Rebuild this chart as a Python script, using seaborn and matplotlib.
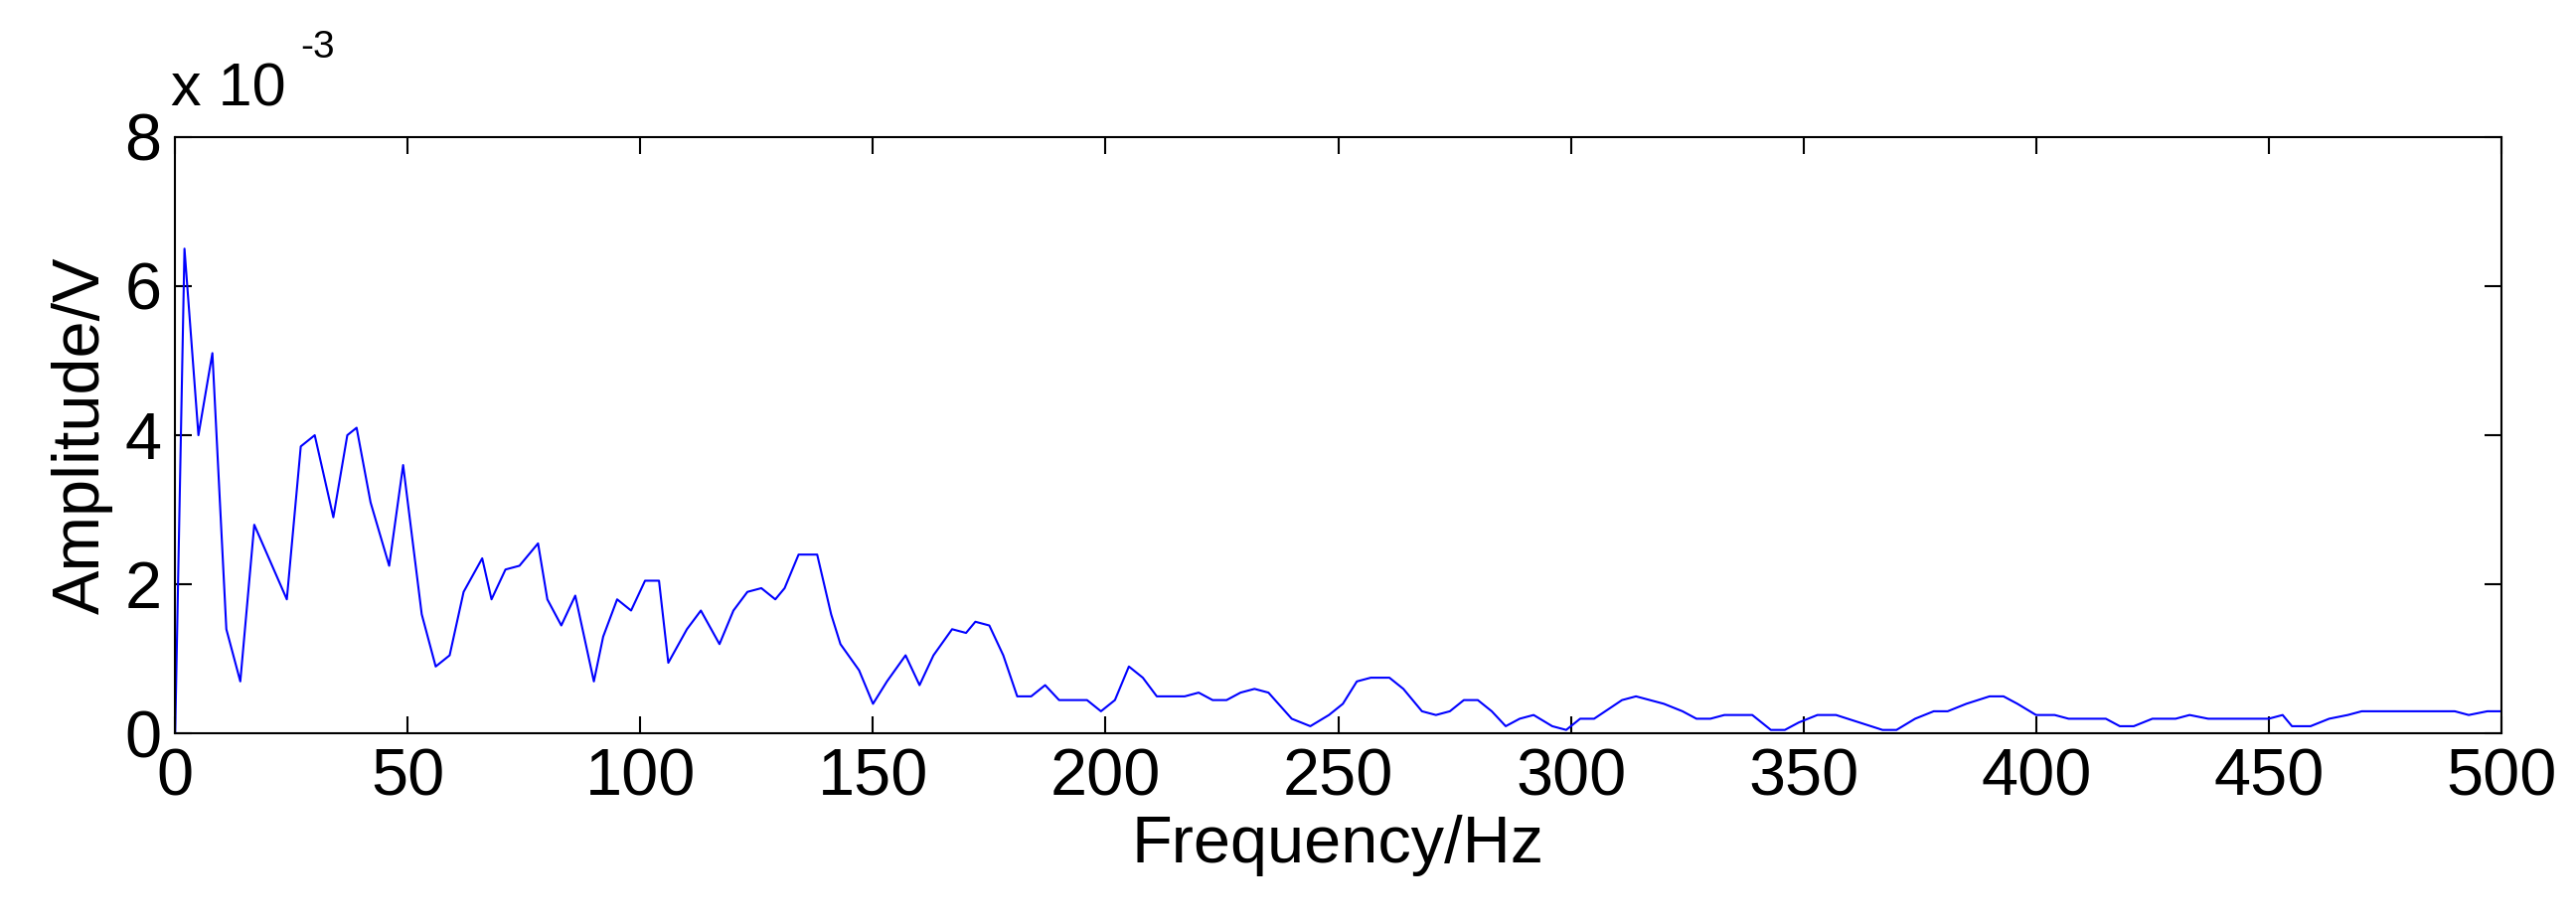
import numpy as np
import pandas as pd
import matplotlib
matplotlib.use("Agg")
import matplotlib.pyplot as plt
import seaborn as sns

# spectrum vertices (Hz, amplitude in 1e-3 V)
freq = [0, 2, 5, 8, 11, 14, 17, 24, 27, 30, 34, 37, 39, 42, 46, 49, 53, 56, 59, 62,
        66, 68, 71, 74, 78, 80, 83, 86, 90, 92, 95, 98, 101, 104, 106, 110, 113, 117,
        120, 123, 126, 129, 131, 134, 138, 141, 143, 147, 150, 153, 157, 160, 163, 167,
        170, 172, 175, 178, 181, 184, 187, 190, 192, 196, 199, 202, 205, 208, 211, 214,
        217, 220, 223, 226, 229, 232, 235, 240, 244, 248, 251, 254, 257, 261, 264, 268,
        271, 274, 277, 280, 283, 286, 289, 292, 296, 299, 302, 305, 311, 314, 317, 320,
        324, 327, 330, 333, 336, 339, 343, 346, 349, 353, 357, 362, 367, 370, 374, 378,
        381, 385, 390, 393, 396, 400, 404, 407, 410, 415, 418, 421, 425, 430, 433, 437,
        450, 453, 455, 459, 463, 467, 470, 490, 493, 497, 500]
amp = [0, 6.5, 4.0, 5.1, 1.4, 0.7, 2.8, 1.8, 3.85, 4.0, 2.9, 4.0, 4.1, 3.1, 2.25, 3.6,
       1.6, 0.9, 1.05, 1.9, 2.35, 1.8, 2.2, 2.25, 2.55, 1.8, 1.45, 1.85, 0.7, 1.3, 1.8,
       1.65, 2.05, 2.05, 0.95, 1.4, 1.65, 1.2, 1.65, 1.9, 1.95, 1.8, 1.95, 2.4, 2.4, 1.6,
       1.2, 0.85, 0.4, 0.7, 1.05, 0.65, 1.05, 1.4, 1.35, 1.5, 1.45, 1.05, 0.5, 0.5, 0.65,
       0.45, 0.45, 0.45, 0.3, 0.45, 0.9, 0.75, 0.5, 0.5, 0.5, 0.55, 0.45, 0.45, 0.55, 0.6,
       0.55, 0.2, 0.1, 0.25, 0.4, 0.7, 0.75, 0.75, 0.6, 0.3, 0.25, 0.3, 0.45, 0.45, 0.3,
       0.1, 0.2, 0.25, 0.1, 0.05, 0.2, 0.2, 0.45, 0.5, 0.45, 0.4, 0.3, 0.2, 0.2, 0.25,
       0.25, 0.25, 0.05, 0.05, 0.15, 0.25, 0.25, 0.15, 0.05, 0.05, 0.2, 0.3, 0.3, 0.4,
       0.5, 0.5, 0.4, 0.25, 0.25, 0.2, 0.2, 0.2, 0.1, 0.1, 0.2, 0.2, 0.25, 0.2, 0.2, 0.25,
       0.1, 0.1, 0.2, 0.25, 0.3, 0.3, 0.25, 0.3, 0.3]

sns.set_theme(style="white", rc={"text.color": "black", "axes.labelcolor": "black",
                                 "xtick.color": "black", "ytick.color": "black"})
plt.rcParams["font.family"] = ["Liberation Sans", "DejaVu Sans"]

data = pd.DataFrame({"freq": freq, "amp": amp})

fig = plt.figure(figsize=(25.92, 9.3), dpi=100)
ax = fig.add_axes([0.068, 0.206, 0.903, 0.646])
sns.lineplot(data=data, x="freq", y="amp", color="blue", linewidth=1.5, ax=ax)

ax.set_xlim(0, 500)
ax.set_ylim(0, 8)
ax.set_xticks(range(0, 501, 50))
ax.set_yticks([0, 2, 4, 6, 8])
ax.tick_params(direction="in", length=12, width=1.5, labelsize=48, pad=10,
               top=True, right=True, bottom=True, left=True)
for s in ax.spines.values():
    s.set_linewidth(1.5)
    s.set_color("black")
ax.set_xlabel("Frequency/Hz", fontsize=48, labelpad=4)
ax.set_ylabel("Amplitude/V", fontsize=48, labelpad=8)
ax.text(-0.002, 1.03, "x 10", transform=ax.transAxes,
        fontsize=44, ha="left", va="bottom")
ax.text(0.054, 1.12, "-3", transform=ax.transAxes,
        fontsize=28, ha="left", va="bottom")

fig.savefig("out.png", dpi=100)
